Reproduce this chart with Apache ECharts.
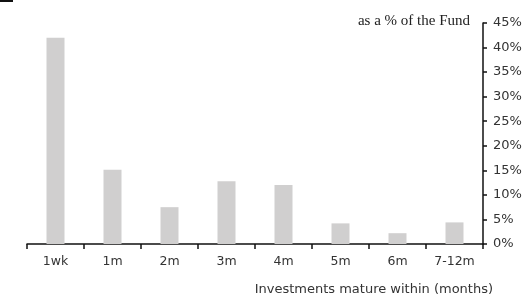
<!DOCTYPE html>
<html><head><meta charset="utf-8">
<script src="https://cdn.jsdelivr.net/npm/echarts@6/dist/echarts.min.js"></script>
<style>html,body{margin:0;padding:0;background:#fff}#c{width:529px;height:297px}</style>
</head><body><div id="c"></div>
<script>
var categories = ['1wk', '1m', '2m', '3m', '4m', '5m', '6m', '7-12m'];
var values = [42, 15.1, 7.5, 12.8, 12, 4.2, 2.2, 4.4];
var yTicks = {min: 0, max: 45, interval: 5};
var yTitle = 'as a % of the Fund';
var xTitle = 'Investments mature within (months)';

var chart = echarts.init(document.getElementById('c'), null, {renderer: 'canvas'});
chart.setOption({
  animation: false,
  grid: {left: 27, right: 46, top: 23, bottom: 53},
  xAxis: {
    type: 'category', data: categories,
    axisLine: {lineStyle: {color: '#111', width: 1.5}},
    axisTick: {show: true, length: 5, alignWithLabel: false, lineStyle: {color: '#111', width: 1.5}},
    axisLabel: {color: '#333', fontFamily: 'DejaVu Sans', fontSize: 12.5, margin: 11}
  },
  yAxis: {
    type: 'value', position: 'right', min: yTicks.min, max: yTicks.max, interval: yTicks.interval,
    axisLine: {show: true, lineStyle: {color: '#111', width: 1.5}},
    axisTick: {show: true, length: 4, lineStyle: {color: '#111', width: 1.5}},
    splitLine: {show: false},
    axisLabel: {formatter: '{value}%', color: '#333', fontFamily: 'DejaVu Sans', fontSize: 13, margin: 10}
  },
  series: [{
    type: 'bar', data: values, barWidth: 18,
    itemStyle: {color: '#d0cfcf'}
  }],
  graphic: [
    {type: 'rect', left: 0, top: 0, shape: {width: 13, height: 2}, style: {fill: '#111'}},
    {type: 'text', right: 59, top: 14, style: {text: yTitle, font: '15px "Liberation Serif"', fill: '#222'}},
    {type: 'text', right: 36, top: 283, style: {text: xTitle, font: '13px "DejaVu Sans"', fill: '#333'}}
  ]
});
</script></body></html>
